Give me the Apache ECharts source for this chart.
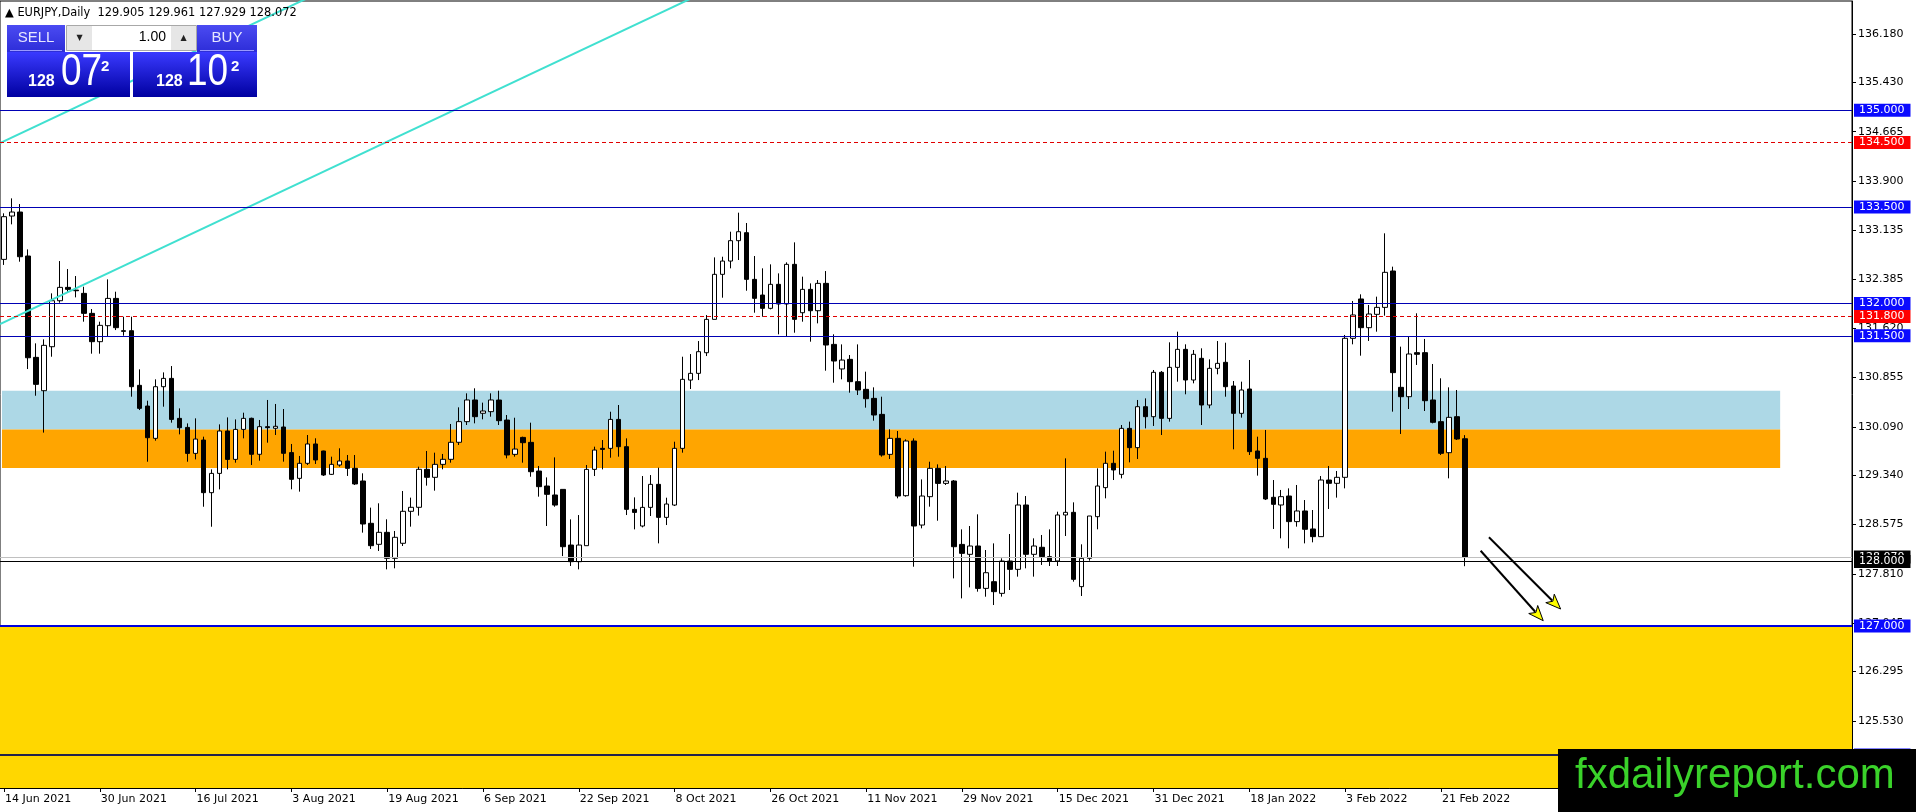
<!DOCTYPE html>
<html><head><meta charset="utf-8">
<script src="https://cdn.jsdelivr.net/npm/echarts@6/dist/echarts.min.js"></script>
<style>html,body{margin:0;padding:0;background:#fff;overflow:hidden}#c{width:1916px;height:812px}</style>
</head><body><div id="c"></div>
<script>
// ---- data ----
const opens = [132.686,133.358,133.42,132.738,131.167,130.65,131.332,132.045,132.252,132.21,
132.159,131.849,131.41,131.658,132.081,131.58,131.58,130.733,130.412,129.911,
130.712,130.841,130.221,130.081,129.678,129.885,129.069,129.368,130.025,129.585,
130.05,130.222,129.664,130.092,130.067,130.087,129.69,129.291,129.524,129.824,
129.715,129.353,129.498,129.56,129.446,129.25,128.594,128.268,128.454,128.051,
128.284,128.78,128.842,129.431,129.307,129.508,129.586,129.85,130.17,130.506,
130.3,130.325,130.505,130.195,129.663,129.926,129.849,129.404,129.172,129.033,
129.12,128.257,127.999,128.247,129.43,129.756,129.756,130.205,129.782,128.81,
128.552,128.841,129.198,128.686,128.877,129.756,130.815,130.919,131.239,131.756,
132.454,132.66,132.976,133.1,132.376,132.133,131.927,132.299,131.994,132.609,
131.859,132.221,131.89,132.314,131.368,130.987,131.136,130.79,130.671,130.531,
130.283,129.663,129.911,129.022,129.87,128.567,129.007,129.446,129.213,129.25,
128.267,128.113,128.242,127.585,127.689,127.508,128.009,127.88,128.878,128.113,
128.222,128.077,128.01,128.723,128.764,127.612,128.051,128.697,129.147,129.524,
129.353,130.066,129.767,130.402,130.247,130.935,130.221,131.012,131.291,130.816,
131.152,130.428,130.997,131.09,130.723,130.299,130.676,129.715,129.601,128.997,
128.878,129.017,128.62,128.785,128.506,128.387,129.265,129.214,129.307,131.462,
132.072,131.627,131.834,131.942,132.506,130.702,130.557,131.24,131.24,130.506,
130.17,129.689,130.247,129.905];
const highs = [133.40,133.632,133.544,132.841,131.384,131.446,132.159,132.66,132.536,132.428,
132.262,131.916,131.72,132.376,132.185,131.797,131.797,130.981,130.495,130.826,
130.934,131.032,130.376,130.143,130.221,129.937,129.43,130.128,130.236,130.205,
130.309,130.232,130.196,130.506,130.444,130.366,129.824,129.638,129.963,129.912,
129.72,129.627,129.757,129.653,129.653,129.369,128.837,128.904,128.656,128.475,
129.095,128.992,129.472,129.715,129.689,129.669,130.134,130.392,130.609,130.687,
130.465,130.609,130.65,130.273,130.231,129.937,130.154,129.482,129.306,129.616,
129.12,128.655,128.722,129.498,129.782,129.885,130.324,130.428,129.911,128.996,
129.327,129.342,129.456,128.991,129.859,131.177,131.218,131.42,131.823,132.717,
132.727,133.115,133.41,133.25,132.738,132.547,132.609,132.469,132.64,132.95,
132.418,132.314,132.366,132.505,131.524,131.368,131.203,131.368,130.945,130.702,
130.557,130.051,130.025,129.896,129.911,129.275,129.549,129.508,129.482,129.265,
128.5,128.552,128.733,128.18,128.283,128.051,128.428,129.069,129.017,128.361,
128.413,128.50,128.774,129.601,128.919,128.268,128.707,129.446,129.705,129.72,
130.118,130.17,130.506,130.531,130.971,130.955,131.4,131.565,131.369,131.281,
131.307,131.136,131.42,131.394,130.8,130.79,131.126,129.937,130.041,129.265,
129.111,129.136,129.188,128.955,128.8,129.327,129.482,129.405,131.514,132.041,
132.144,131.979,132.108,133.09,132.573,131.333,131.488,131.85,131.452,131.064,
130.842,130.702,130.661,129.961];
const lows = [132.60,133.229,132.65,130.986,130.572,130.0,131.177,132.014,132.17,132.097,
131.72,131.224,131.224,131.497,131.59,131.503,130.557,130.35,129.549,129.875,
130.402,130.154,129.973,129.549,129.585,128.851,128.541,129.12,129.43,129.534,
129.911,129.498,129.565,129.844,129.963,129.55,129.121,129.085,129.498,129.514,
129.328,129.343,129.472,129.328,129.188,128.449,128.196,128.165,127.88,127.896,
128.242,128.542,128.713,129.178,129.1,129.431,129.534,129.808,130.118,130.144,
130.206,130.247,130.118,129.601,129.627,129.534,129.316,129.007,128.552,128.851,
128.086,127.932,127.88,128.247,129.327,129.43,129.611,129.627,128.722,128.5,
128.531,128.707,128.283,128.567,128.862,129.689,130.676,130.815,131.187,131.756,
132.092,132.547,132.676,132.2,131.859,131.797,131.911,131.524,131.498,131.549,
131.72,131.41,131.694,130.96,130.774,130.826,130.619,130.583,130.387,130.185,
129.627,129.591,128.981,129.007,127.921,128.516,128.852,128.634,129.188,127.74,
127.43,127.601,127.534,127.456,127.327,127.457,127.56,127.767,127.896,127.767,
127.948,127.932,127.932,128.397,127.689,127.467,128.015,128.501,128.981,129.265,
129.291,129.539,129.591,130.066,130.103,129.963,130.17,130.79,130.594,130.764,
130.118,130.377,130.904,130.557,129.741,130.232,129.653,129.333,128.955,128.506,
128.361,128.206,128.542,128.283,128.299,128.387,128.816,128.992,129.136,131.369,
131.193,131.421,131.565,131.813,130.325,129.979,130.366,131.049,130.335,130.144,
129.653,129.291,129.886,127.929];
const closes = [133.348,133.42,132.727,131.161,130.748,131.353,132.045,132.252,132.221,132.2,
131.849,131.41,131.663,132.081,131.627,131.57,130.712,130.376,129.921,130.712,
130.841,130.205,130.076,129.678,129.9,129.069,129.368,130.025,129.585,130.05,
130.221,129.664,130.092,130.077,130.098,129.679,129.276,129.524,129.824,129.576,
129.343,129.508,129.56,129.446,129.204,128.583,128.247,128.454,128.051,128.377,
128.78,128.842,129.431,129.307,129.508,129.586,129.85,130.17,130.506,130.247,
130.335,130.506,130.185,129.653,129.745,129.844,129.394,129.162,129.043,128.877,
128.231,127.999,128.257,129.43,129.73,129.74,130.205,129.782,128.81,128.763,
128.841,129.198,128.686,128.893,129.756,130.826,130.919,131.255,131.756,132.454,
132.66,132.976,133.115,132.376,132.082,131.927,132.299,131.994,132.609,131.756,
132.221,131.89,132.314,131.358,131.11,131.125,130.79,130.66,130.526,130.273,
129.653,129.911,129.017,129.87,128.552,129.017,129.446,129.213,129.25,128.231,
128.128,128.242,127.585,127.828,127.534,128.009,127.88,128.878,128.113,128.242,
128.077,128.01,128.723,128.764,127.725,128.051,128.707,129.172,129.524,129.421,
130.066,129.767,130.402,130.247,130.935,130.221,131.012,131.291,130.816,131.214,
130.428,130.997,131.074,130.712,130.299,130.661,129.705,129.601,128.971,128.888,
129.007,128.62,128.785,128.501,128.387,129.265,129.214,129.307,131.462,131.824,
131.627,131.839,131.942,132.485,130.93,130.557,131.219,131.214,130.495,130.16,
129.679,130.237,129.901,128.072];

const firstTradingDay = [2021, 5, 14];          // 14 Jun 2021 (daily bars, weekdays)
const totalSlots = 232;                          // bars + empty right margin
const dateTickEvery = 12;
const priceTicks = [136.18,135.43,134.665,133.9,133.135,132.385,131.62,130.855,130.09,129.34,128.575,127.81,127.045,126.295,125.53];
const blueLevels = [135.0, 133.5, 132.0, 131.5];
const redLevels = [134.5, 131.8];
const supportLevel = 127.0;
const lowerLevel = 125.0;
const roundLevel = 128.0;
const bidPrice = 128.072;
const lightBlueZone = [130.05, 130.65];
const orangeZone = [129.45, 130.05];
const zoneEndBar = 222.5;
const trendLineA = [[-0.5, 131.684], [90, 136.96]];
const trendLineB = [[-0.5, 134.49], [40, 136.852]];
const arrows = [[184.98, 128.169, 192.82, 127.084], [186.02, 128.377, 195.0, 127.265]];
const yMin = 124.49, yMax = 136.692;

// ---- build ----
const MONTHS = ['Jan','Feb','Mar','Apr','May','Jun','Jul','Aug','Sep','Oct','Nov','Dec'];
const categories = [];
let t = Date.UTC(firstTradingDay[0], firstTradingDay[1], firstTradingDay[2]);
while (categories.length < opens.length) {
  const d = new Date(t);
  const wd = d.getUTCDay();
  if (wd !== 0 && wd !== 6) categories.push(d.getUTCDate() + ' ' + MONTHS[d.getUTCMonth()] + ' ' + d.getUTCFullYear());
  t += 86400000;
}
while (categories.length < totalSlots) categories.push('');
const candles = opens.map((o, i) => [o, closes[i], lows[i], highs[i]]);
const nBars = opens.length;
const showTick = (idx) => idx % dateTickEvery === 0 && idx < nBars;

const FONT = 'DejaVu Sans';
function boxLabel(bg) {
  return { show: true, position: 'end', distance: 2, formatter: p => Number(p.value).toFixed(3),
    color: '#fff', backgroundColor: bg, padding: [1, 6, 0, 5], fontFamily: FONT, fontSize: 11, lineHeight: 12 };
}
const markLines = [];
blueLevels.forEach(v => markLines.push({ yAxis: v, lineStyle: { color: '#0000b4', width: 1, type: 'solid' }, label: boxLabel('#0a0aff') }));
redLevels.forEach(v => markLines.push({ yAxis: v, lineStyle: { color: '#e00000', width: 1, type: [4, 3] }, label: boxLabel('#ff0000') }));
markLines.push({ yAxis: lowerLevel, lineStyle: { color: '#22224a', width: 2, type: 'solid' }, label: boxLabel('#0a0aff') });
markLines.push({ yAxis: supportLevel, lineStyle: { color: '#0000e0', width: 2, type: 'solid' }, label: boxLabel('#0a0aff') });
markLines.push({ yAxis: bidPrice, lineStyle: { color: '#c0c0c0', width: 1, type: 'solid' }, label: boxLabel('#000') });
markLines.push({ yAxis: roundLevel, lineStyle: { color: '#000', width: 1, type: 'solid' }, label: boxLabel('#000') });

const blueGrad = () => new echarts.graphic.LinearGradient(0, 0, 0, 1, [{ offset: 0, color: '#3a3aff' }, { offset: 1, color: '#0000a0' }]);
const btnGrad = () => new echarts.graphic.LinearGradient(0, 0, 0, 1, [{ offset: 0, color: '#4b4bf2' }, { offset: 1, color: '#2d2dd8' }]);

const graphics = [
  { type: 'text', x: 5, y: 13, z: 100, style: { text: '\u25B2 EURJPY,Daily  129.905 129.961 127.929 128.072', font: '11.4px "DejaVu Sans"', fill: '#000', verticalAlign: 'middle' } },
  // trading panel
  { type: 'rect', z: 100, shape: { x: 7, y: 25, width: 58, height: 27 }, style: { fill: btnGrad() } },
  { type: 'line', z: 101, shape: { x1: 10, y1: 50.5, x2: 62, y2: 50.5 }, style: { stroke: '#9a9aff', lineWidth: 1 } },
  { type: 'text', z: 101, x: 36, y: 38, style: { text: 'SELL', font: '15px "Liberation Sans"', fill: '#e6e6ff', align: 'center', verticalAlign: 'middle' } },
  { type: 'rect', z: 100, shape: { x: 66.5, y: 25.5, width: 130, height: 25 }, style: { fill: '#fff', stroke: '#a8a8a8', lineWidth: 1 } },
  { type: 'rect', z: 101, shape: { x: 67, y: 26, width: 25, height: 24 }, style: { fill: '#e6e6e6' } },
  { type: 'rect', z: 101, shape: { x: 171, y: 26, width: 25, height: 24 }, style: { fill: '#e6e6e6' } },
  { type: 'text', z: 102, x: 79.5, y: 38, style: { text: '\u25BC', font: '8px "DejaVu Sans"', fill: '#222', align: 'center', verticalAlign: 'middle' } },
  { type: 'text', z: 102, x: 183.5, y: 38, style: { text: '\u25B2', font: '8px "DejaVu Sans"', fill: '#222', align: 'center', verticalAlign: 'middle' } },
  { type: 'text', z: 102, x: 166, y: 37, style: { text: '1.00', font: '14px "Liberation Sans"', fill: '#000', align: 'right', verticalAlign: 'middle' } },
  { type: 'rect', z: 100, shape: { x: 197, y: 25, width: 60, height: 27 }, style: { fill: btnGrad() } },
  { type: 'line', z: 101, shape: { x1: 200, y1: 50.5, x2: 254, y2: 50.5 }, style: { stroke: '#9a9aff', lineWidth: 1 } },
  { type: 'text', z: 101, x: 227, y: 38, style: { text: 'BUY', font: '15px "Liberation Sans"', fill: '#e6e6ff', align: 'center', verticalAlign: 'middle' } },
  { type: 'rect', z: 100, shape: { x: 7, y: 52, width: 123, height: 45 }, style: { fill: blueGrad() } },
  { type: 'rect', z: 100, shape: { x: 133, y: 52, width: 124, height: 45 }, style: { fill: blueGrad() } },
  { type: 'text', z: 101, x: 28, y: 82, style: { text: '128', font: 'bold 16px "Liberation Sans"', fill: '#fff', verticalAlign: 'middle' } },
  { type: 'text', z: 101, x: 61, y: 73, scaleX: 0.84, style: { text: '07', font: '44px "Liberation Sans"', fill: '#fff', verticalAlign: 'middle' } },
  { type: 'text', z: 101, x: 101, y: 67, style: { text: '2', font: 'bold 15px "Liberation Sans"', fill: '#fff', verticalAlign: 'middle' } },
  { type: 'text', z: 101, x: 156, y: 82, style: { text: '128', font: 'bold 16px "Liberation Sans"', fill: '#fff', verticalAlign: 'middle' } },
  { type: 'text', z: 101, x: 187, y: 73, scaleX: 0.84, style: { text: '10', font: '44px "Liberation Sans"', fill: '#fff', verticalAlign: 'middle' } },
  { type: 'text', z: 101, x: 231, y: 67, style: { text: '2', font: 'bold 15px "Liberation Sans"', fill: '#fff', verticalAlign: 'middle' } },
  // watermark
  { type: 'rect', z: 100, shape: { x: 1558, y: 749, width: 358, height: 63 }, style: { fill: '#000' } },
  { type: 'text', z: 101, x: 1575, y: 776, style: { text: 'fxdailyreport.com', font: '42px "Liberation Sans"', fill: '#3ad22a', verticalAlign: 'middle' } }
];

const chart = echarts.init(document.getElementById('c'), null, { renderer: 'canvas' });
chart.setOption({
  animation: false,
  backgroundColor: '#fff',
  grid: { left: 0, right: 64, top: 1, bottom: 24, show: true, borderColor: '#000', borderWidth: 1, backgroundColor: '#fff' },
  xAxis: [
    { type: 'category', data: categories, boundaryGap: true,
      axisLine: { show: true, onZero: false, lineStyle: { color: '#000' } },
      axisTick: { show: true, alignWithLabel: true, length: 4, interval: showTick, lineStyle: { color: '#000' } },
      axisLabel: { show: true, interval: showTick, align: 'left', margin: 6, padding: [0, 0, 0, 1], color: '#000', fontFamily: FONT, fontSize: 11, hideOverlap: false },
      splitLine: { show: false } },
    { type: 'value', min: -0.5, max: totalSlots - 0.5, show: false,
      axisLine: { show: false, onZero: false }, axisTick: { show: false }, axisLabel: { show: false }, splitLine: { show: false } }
  ],
  yAxis: [{
    type: 'value', position: 'right', min: yMin, max: yMax,
    axisLine: { show: true, onZero: false, lineStyle: { color: '#000' } },
    axisTick: { show: true, length: 4, customValues: priceTicks, lineStyle: { color: '#000' } },
    axisLabel: { show: true, customValues: priceTicks, formatter: v => Number(v).toFixed(3), margin: 6, color: '#000', fontFamily: FONT, fontSize: 11 },
    splitLine: { show: false }
  }],
  series: [
    { type: 'candlestick', xAxisIndex: 0, yAxisIndex: 0, data: candles, barWidth: 5, z: 2,
      itemStyle: { color: '#fff', color0: '#000', borderColor: '#000', borderColor0: '#000', borderWidth: 1 } },
    { type: 'line', name: 'trendA', xAxisIndex: 1, yAxisIndex: 0, data: trendLineA, showSymbol: false, symbol: 'none', clip: true, z: 3, silent: true,
      lineStyle: { color: '#40e0d0', width: 2 },
      markArea: { silent: true, label: { show: false }, itemStyle: { opacity: 1 },
        data: [
          [{ xAxis: -0.25, yAxis: lightBlueZone[1], itemStyle: { color: '#add8e6', opacity: 1 } }, { xAxis: zoneEndBar, yAxis: lightBlueZone[0] }],
          [{ xAxis: -0.25, yAxis: orangeZone[1], itemStyle: { color: '#ffa500', opacity: 1 } }, { xAxis: zoneEndBar, yAxis: orangeZone[0] }],
          [{ xAxis: -0.5, yAxis: supportLevel, itemStyle: { color: '#ffd700', opacity: 1 } }, { xAxis: totalSlots - 0.5, yAxis: yMin }]
        ] },
      markLine: { silent: true, symbol: ['none', 'none'], data: markLines } },
    { type: 'line', name: 'trendB', xAxisIndex: 1, yAxisIndex: 0, data: trendLineB, showSymbol: false, symbol: 'none', clip: true, z: 3, silent: true,
      lineStyle: { color: '#40e0d0', width: 2 } },
    { type: 'custom', xAxisIndex: 1, yAxisIndex: 0, data: arrows, z: 6, silent: true, clip: false,
      renderItem: function (params, api) {
        const p1 = api.coord([api.value(0), api.value(1)]);
        const p2 = api.coord([api.value(2), api.value(3)]);
        const dx = p2[0] - p1[0], dy = p2[1] - p1[1];
        const L = Math.hypot(dx, dy), ux = dx / L, uy = dy / L, nx = -uy, ny = ux;
        const hl = 15, hw = 6;
        const bx = p2[0] - ux * hl, by = p2[1] - uy * hl;
        return { type: 'group', children: [
          { type: 'line', shape: { x1: p1[0], y1: p1[1], x2: bx + ux * 3, y2: by + uy * 3 }, style: { stroke: '#000', lineWidth: 2 } },
          { type: 'polygon', shape: { points: [[p2[0], p2[1]], [bx + nx * hw, by + ny * hw], [bx + ux * 4, by + uy * 4], [bx - nx * hw, by - ny * hw]] },
            style: { fill: '#ffff00', stroke: '#000', lineWidth: 1 } }
        ] };
      } }
  ],
  graphic: { elements: graphics }
});
</script>
</body></html>
